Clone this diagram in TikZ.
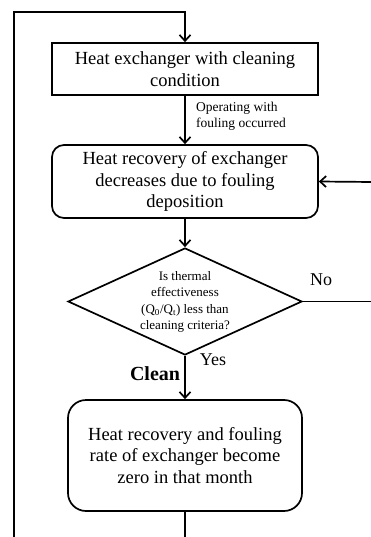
\documentclass[tikz,border=0pt]{standalone}
\usepackage{fontspec}
\setmainfont{Liberation Serif}
\usetikzlibrary{shapes.geometric,arrows.meta}
\begin{document}
\begin{tikzpicture}[x=1pt,y=-1pt,
  line width=1.7pt,
  arr/.style={-{Straight Barb[length=6pt,width=11pt,line width=1.7pt]}},
  boxtxt/.style={font=\fontsize{18.5}{21.5}\selectfont, align=center},
  sqbox/.style={draw, rectangle, minimum width=266pt, minimum height=52pt, inner sep=0pt, boxtxt},
  rbox/.style={draw, rectangle, rounded corners=12pt, minimum width=266pt, minimum height=73pt, inner sep=0pt, boxtxt},
  rbigbox/.style={draw, rectangle, rounded corners=18pt, minimum width=234pt, minimum height=111pt, inner sep=0pt, boxtxt},
  dia/.style={draw, diamond, minimum width=234pt, minimum height=107pt, inner sep=0pt},
  small/.style={font=\fontsize{13.5}{16}\selectfont, align=left},
  lab/.style={font=\fontsize{18}{20}\selectfont}
]
\useasboundingbox (0,0) rectangle (371,537);

\node[sqbox] (b1) at (185,69) {Heat exchanger with cleaning\\condition};
\node[rbox] (b2) at (185,181.5) {Heat recovery of exchanger\\decreases due to fouling\\deposition};
\node[dia] (d) at (185,301.5) {};
\node[font=\fontsize{13}{16.5}\selectfont, align=center] (dt) at (185,302) {Is thermal\\effectiveness\\(Q\textsubscript{0}/Q\textsubscript{t}) less than\\cleaning criteria?};
\node[rbigbox] (b3) at (185,455.5) {Heat recovery and fouling\\rate of exchanger become\\zero in that month};

\coordinate (lb) at (14,537);
\coordinate (lt) at (14,12);
\coordinate (rr) at (372,182);
\coordinate (rd) at (372,301.5);
\coordinate (bb) at (185,537);

\draw[arr] (lb) -- (lt) -| (b1.north);
\draw[arr] (b1.south) -- (b2.north);
\draw[arr] (rr) -- (b2.east);
\draw[arr] (b2.south) -- (d.north);
\draw (d.east) -- (rd);
\draw[arr] (d.south) -- (b3.north);
\draw (b3.south) -- (bb);

\node[small, anchor=west] (op) at (192,116) {Operating with\\fouling occurred};
\node[lab] (no) at (321,280) {No};
\node[lab] (yes) at (213,360) {Yes};
\node[font=\fontsize{20}{22}\selectfont\bfseries] (cl) at (155,374) {Clean};
\end{tikzpicture}
\end{document}
